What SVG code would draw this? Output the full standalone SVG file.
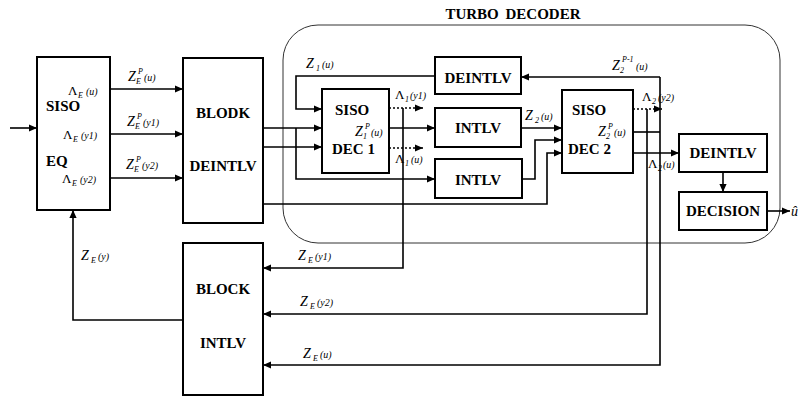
<svg xmlns="http://www.w3.org/2000/svg" width="799" height="397" viewBox="0 0 799 397">
<defs>
<marker id="ah" viewBox="0 0 10 10" refX="10" refY="5" markerWidth="9" markerHeight="8" markerUnits="userSpaceOnUse" orient="auto"><path d="M0,0.5 L10,5 L0,9.5 z" fill="#000"/></marker>
</defs>
<style>
.box{fill:#fff;stroke:#000;stroke-width:2}
.bt{font-family:"Liberation Serif",serif;font-weight:bold;font-size:15px;fill:#000}
.lb{font-family:"Liberation Serif",serif;font-style:italic;font-size:14px;fill:#000}
.up{font-style:normal}
.sm{font-size:10px}
.sb{font-size:8px}
.w{fill:none;stroke:#000;stroke-width:1.6}
.dt{fill:none;stroke:#000;stroke-width:1.3;stroke-dasharray:2 2}
.tb{fill:none;stroke:#333;stroke-width:1}
</style>
<rect class="tb" x="283" y="25" width="497" height="218" rx="35"/>
<text class="bt" x="513" y="19" text-anchor="middle" font-size="14" word-spacing="3">TURBO DECODER</text>
<g id="connectors">
<path class="w" d="M10,128 H37" marker-end="url(#ah)"/>
<path class="w" d="M110,89 H183" marker-end="url(#ah)"/>
<path class="w" d="M110,134 H183" marker-end="url(#ah)"/>
<path class="w" d="M110,178 H183" marker-end="url(#ah)"/>
<path class="w" d="M263,128 H322" marker-end="url(#ah)"/>
<path class="w" d="M263,147 H322" marker-end="url(#ah)"/>
<path class="w" d="M296,128 V179 H435" marker-end="url(#ah)"/>
<path class="w" d="M263,204 H547 V153 H562" marker-end="url(#ah)"/>
<path class="w" d="M435,76 H296 V109 H322" marker-end="url(#ah)"/>
<path class="dt" d="M389,108 H423" marker-end="url(#ah)"/>
<path class="w" d="M389,128 H435" marker-end="url(#ah)"/>
<path class="dt" d="M389,148 H423" marker-end="url(#ah)"/>
<path class="w" d="M403,108 V268 H263" marker-end="url(#ah)"/>
<path class="w" d="M521,128 H562" marker-end="url(#ah)"/>
<path class="w" d="M522,179 H535 V140 H562" marker-end="url(#ah)"/>
<path class="dt" d="M633,109 H662" marker-end="url(#ah)"/>
<path class="w" d="M633,132 H660"/>
<path class="w" d="M660,77 H521" marker-end="url(#ah)"/>
<path class="w" d="M660,77 V365 H263" marker-end="url(#ah)"/>
<path class="w" d="M647,109 V314 H263" marker-end="url(#ah)"/>
<path class="w" d="M633,153 H679" marker-end="url(#ah)"/>
<path class="w" d="M723,172 V192" marker-end="url(#ah)"/>
<path class="w" d="M767,211 H790" marker-end="url(#ah)"/>
<path class="w" d="M183,320 H73 V210" marker-end="url(#ah)"/>
</g>
<g id="siso-eq">
<rect class="box" x="37" y="57" width="73" height="153"/>
<text class="bt" x="46" y="111">SISO</text>
<text class="bt" x="46" y="166">EQ</text>
<text class="lb"><tspan class="up" x="68" y="95" font-size="13">Λ</tspan><tspan class="sb" x="78" y="98">E</tspan><tspan class="sm" x="86" y="95">(u)</tspan></text>
<text class="lb"><tspan class="up" x="63" y="139" font-size="13">Λ</tspan><tspan class="sb" x="73" y="142">E</tspan><tspan class="sm" x="81" y="139">(y1)</tspan></text>
<text class="lb"><tspan class="up" x="62" y="183" font-size="13">Λ</tspan><tspan class="sb" x="72" y="186">E</tspan><tspan class="sm" x="80" y="183">(y2)</tspan></text>
</g>
<g id="edge-labels-eq">
<text class="lb"><tspan x="128" y="81">Z</tspan><tspan class="sb" x="138" y="74">P</tspan><tspan class="sb" x="136" y="84">E</tspan><tspan class="sm" x="144" y="81">(u)</tspan></text>
<text class="lb"><tspan x="127" y="126">Z</tspan><tspan class="sb" x="137" y="119">P</tspan><tspan class="sb" x="135" y="129">E</tspan><tspan class="sm" x="143" y="126">(y1)</tspan></text>
<text class="lb"><tspan x="126" y="169">Z</tspan><tspan class="sb" x="136" y="162">P</tspan><tspan class="sb" x="134" y="172">E</tspan><tspan class="sm" x="142" y="169">(y2)</tspan></text>
</g>
<g id="block-deintlv">
<rect class="box" x="183" y="58" width="80" height="165"/>
<text class="bt" x="223" y="118" text-anchor="middle">BLODK</text>
<text class="bt" x="223" y="171" text-anchor="middle">DEINTLV</text>
</g>
<g id="block-intlv">
<rect class="box" x="183" y="243" width="80" height="152"/>
<text class="bt" x="223" y="294" text-anchor="middle">BLOCK</text>
<text class="bt" x="223" y="348" text-anchor="middle">INTLV</text>
</g>
<g id="siso-dec1">
<rect class="box" x="322" y="89" width="67" height="84"/>
<text class="bt" x="335" y="115">SISO</text>
<text class="bt" x="332" y="154">DEC 1</text>
<text class="lb"><tspan x="355" y="136">Z</tspan><tspan class="sb" x="365" y="129">P</tspan><tspan class="sb" x="363" y="139">1</tspan><tspan class="sm" x="371" y="136">(u)</tspan></text>
</g>
<g id="deintlv-top">
<rect class="box" x="435" y="57" width="86" height="37"/>
<text class="bt" x="478" y="83" text-anchor="middle">DEINTLV</text>
</g>
<g id="intlv-1">
<rect class="box" x="435" y="108" width="86" height="39"/>
<text class="bt" x="478" y="133" text-anchor="middle">INTLV</text>
</g>
<g id="intlv-2">
<rect class="box" x="435" y="159" width="87" height="39"/>
<text class="bt" x="478" y="185" text-anchor="middle">INTLV</text>
</g>
<g id="siso-dec2">
<rect class="box" x="562" y="90" width="71" height="83"/>
<text class="bt" x="572" y="115">SISO</text>
<text class="bt" x="568" y="154">DEC 2</text>
<text class="lb"><tspan x="598" y="136">Z</tspan><tspan class="sb" x="608" y="129">P</tspan><tspan class="sb" x="606" y="139">2</tspan><tspan class="sm" x="614" y="136">(u)</tspan></text>
</g>
<g id="deintlv-right">
<rect class="box" x="679" y="134" width="88" height="38"/>
<text class="bt" x="723" y="158" text-anchor="middle">DEINTLV</text>
</g>
<g id="decision">
<rect class="box" x="679" y="192" width="88" height="38"/>
<text class="bt" x="723" y="216" text-anchor="middle">DECISION</text>
</g>
<g id="labels">
<text class="lb"><tspan x="306" y="68">Z</tspan><tspan class="sb" x="316" y="71">1</tspan><tspan class="sm" x="322" y="68">(u)</tspan></text>
<text class="lb"><tspan class="up" x="395" y="99" font-size="13">Λ</tspan><tspan class="sb" x="405" y="102">1</tspan><tspan class="sm" x="410" y="99">(y1)</tspan></text>
<text class="lb"><tspan class="up" x="395" y="163" font-size="13">Λ</tspan><tspan class="sb" x="405" y="166">1</tspan><tspan class="sm" x="411" y="163">(u)</tspan></text>
<text class="lb"><tspan x="525" y="120">Z</tspan><tspan class="sb" x="535" y="123">2</tspan><tspan class="sm" x="541" y="120">(u)</tspan></text>
<text class="lb"><tspan x="612" y="70">Z</tspan><tspan class="sb" x="622" y="62">P-1</tspan><tspan class="sb" x="620" y="73">2</tspan><tspan class="sm" x="636" y="70">(u)</tspan></text>
<text class="lb"><tspan class="up" x="642" y="101" font-size="13">Λ</tspan><tspan class="sb" x="652" y="104">2</tspan><tspan class="sm" x="658" y="101">(y2)</tspan></text>
<text class="lb"><tspan class="up" x="648" y="168" font-size="13">Λ</tspan><tspan class="sb" x="658" y="171">2</tspan><tspan class="sm" x="663" y="168">(u)</tspan></text>
<text class="lb"><tspan x="81" y="260">Z</tspan><tspan class="sb" x="91" y="263">E</tspan><tspan class="sm" x="98" y="260">(y)</tspan></text>
<text class="lb"><tspan x="298" y="260">Z</tspan><tspan class="sb" x="308" y="263">E</tspan><tspan class="sm" x="315" y="260">(y1)</tspan></text>
<text class="lb"><tspan x="300" y="306">Z</tspan><tspan class="sb" x="310" y="309">E</tspan><tspan class="sm" x="317" y="306">(y2)</tspan></text>
<text class="lb"><tspan x="303" y="358">Z</tspan><tspan class="sb" x="313" y="361">E</tspan><tspan class="sm" x="320" y="358">(u)</tspan></text>
<text class="lb" x="791" y="216">û</text>
</g>
</svg>
